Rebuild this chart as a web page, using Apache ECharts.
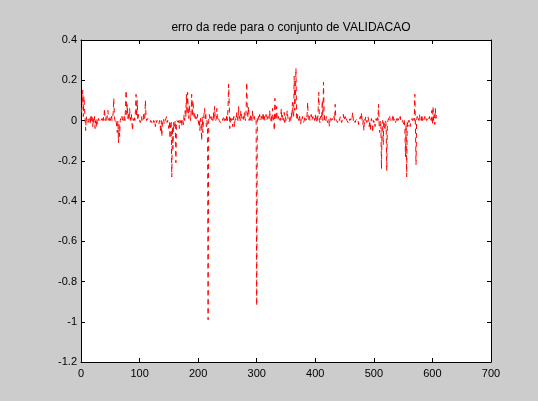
<!DOCTYPE html>
<html>
<head>
<meta charset="utf-8">
<script src="https://cdn.jsdelivr.net/npm/echarts@6/dist/echarts.min.js"></script>
<style>
  html, body { margin: 0; padding: 0; background: #cccccc; }
  #chart { width: 538px; height: 401px; }
</style>
</head>
<body>
<div id="chart"></div>
<script>
// Validation-set error of the network, one value per sample (1..607)
var errorValues = [
  0.04, 0.09, 0.15, 0.02, 0.12, 0.06, 0.01, -0.05, 0.02, 0.00,
  0.01, -0.01, 0.00, 0.02, 0.01, -0.02, 0.03, 0.00, 0.02, -0.03,
  0.01, -0.01, 0.02, -0.04, 0.00, -0.03, 0.01, -0.02, 0.00, 0.01,
  0.00, 0.00, -0.01, 0.00, 0.00, 0.01, 0.00, 0.02, 0.00, 0.06,
  0.01, 0.00, 0.02, 0.00, 0.00, 0.05, 0.01, 0.00, 0.02, 0.00,
  0.01, 0.03, 0.00, 0.01, 0.04, 0.11, 0.02, 0.00, -0.01, 0.00,
  -0.03, -0.06, 0.00, -0.11, -0.02, -0.08, 0.00, 0.01, 0.00, 0.02,
  0.00, 0.01, 0.00, 0.03, 0.00, 0.06, 0.15, 0.03, 0.08, 0.01,
  0.04, 0.00, 0.06, 0.02, 0.00, 0.03, -0.01, -0.05, 0.01, 0.00,
  0.02, 0.00, 0.05, 0.13, 0.02, 0.10, 0.00, 0.03, 0.01, 0.00,
  -0.01, 0.00, 0.02, 0.00, 0.01, 0.00, 0.04, 0.00, 0.01, 0.10,
  0.02, 0.00, 0.00, 0.01, 0.00, 0.00, 0.00, -0.01, 0.00, 0.00,
  0.00, 0.00, -0.02, 0.00, -0.01, 0.00, -0.03, 0.00, -0.01, 0.00,
  0.00, 0.00, -0.02, 0.00, -0.01, -0.06, 0.00, -0.08, -0.01, 0.00,
  0.01, -0.02, -0.01, 0.00, 0.00, 0.02, -0.01, 0.00, -0.02, -0.04,
  -0.01, -0.09, -0.02, 0.00, -0.28, -0.03, -0.14, -0.01, -0.04, -0.02,
  0.00, -0.21, -0.03, 0.00, 0.00, -0.01, 0.00, -0.04, 0.00, -0.02,
  0.00, -0.03, 0.01, 0.00, -0.02, 0.03, 0.00, 0.05, 0.02, 0.13,
  0.03, 0.14, 0.06, 0.01, 0.08, 0.03, 0.00, 0.04, 0.13, 0.02,
  0.10, 0.05, 0.02, 0.04, 0.00, 0.02, 0.01, 0.00, 0.03, 0.00,
  -0.02, 0.00, -0.05, 0.01, 0.00, -0.10, 0.02, -0.06, 0.00, 0.03,
  0.06, 0.01, 0.04, -0.03, 0.00, -0.02, -0.99, 0.00, 0.03, 0.01,
  0.00, 0.02, 0.00, 0.01, 0.00, 0.04, 0.00, 0.07, 0.02, 0.00,
  0.01, 0.06, 0.00, 0.00, 0.01, 0.00, 0.00, -0.01, 0.00, 0.00,
  0.01, 0.00, 0.00, 0.02, 0.00, 0.01, -0.01, 0.00, 0.03, 0.00,
  0.06, 0.18, 0.10, -0.04, 0.00, 0.02, 0.00, 0.01, -0.03, 0.00,
  0.02, -0.03, 0.00, 0.01, 0.00, 0.04, 0.02, 0.00, 0.07, 0.01,
  0.03, 0.00, 0.05, 0.02, 0.01, 0.00, 0.02, 0.00, 0.04, 0.01,
  0.00, 0.06, 0.19, 0.04, 0.02, 0.07, 0.00, 0.01, 0.03, 0.00,
  0.02, 0.00, 0.05, 0.01, 0.00, 0.02, 0.00, -0.01, 0.00, -0.92,
  0.01, 0.00, 0.02, 0.00, 0.03, 0.01, 0.00, 0.02, 0.00, 0.01,
  0.04, 0.00, 0.02, 0.00, 0.01, 0.03, 0.00, 0.00, 0.02, 0.01,
  0.00, 0.05, 0.02, 0.00, 0.03, -0.01, 0.06, 0.02, 0.00, -0.05,
  0.11, 0.03, 0.00, 0.07, 0.01, 0.00, 0.02, 0.00, 0.01, 0.00,
  0.02, 0.06, 0.00, 0.03, 0.01, 0.00, 0.04, -0.01, 0.02, 0.00,
  0.01, 0.05, 0.02, 0.00, -0.01, 0.00, 0.02, 0.00, 0.04, 0.01,
  0.09, 0.03, 0.02, 0.22, 0.05, 0.12, 0.26, 0.02, 0.00, 0.03,
  0.01, 0.00, 0.03, 0.00, -0.02, 0.01, 0.00, 0.02, 0.00, -0.01,
  0.00, 0.02, 0.00, 0.01, 0.00, 0.03, 0.09, 0.01, 0.00, 0.02,
  0.00, 0.01, 0.03, 0.00, 0.00, 0.02, 0.00, 0.01, 0.00, 0.03,
  0.00, -0.01, 0.02, 0.00, 0.06, 0.14, 0.00, -0.01, 0.02, 0.00,
  0.03, 0.10, 0.00, 0.19, 0.05, 0.00, 0.01, 0.00, 0.02, 0.00,
  -0.01, 0.00, 0.01, -0.03, 0.00, 0.02, 0.00, 0.00, 0.01, 0.00,
  0.00, 0.02, 0.00, 0.08, 0.01, 0.00, 0.00, -0.01, 0.00, 0.01,
  0.00, 0.00, 0.02, 0.00, -0.01, 0.00, 0.01, 0.03, 0.00, 0.00,
  0.02, 0.00, 0.01, 0.00, 0.00, -0.01, 0.00, 0.01, 0.00, 0.00,
  0.01, 0.00, 0.00, 0.04, 0.00, 0.01, 0.00, -0.01, 0.00, 0.00,
  0.00, 0.01, 0.00, -0.02, 0.00, 0.00, 0.02, 0.00, 0.04, 0.00,
  -0.02, 0.00, -0.05, 0.01, 0.00, 0.02, 0.00, -0.01, 0.00, 0.02,
  0.00, -0.03, 0.00, -0.05, 0.00, 0.01, -0.02, -0.06, 0.00, -0.01,
  0.00, -0.03, 0.00, 0.01, 0.00, 0.02, 0.00, 0.08, -0.02, -0.06,
  0.00, -0.03, -0.24, -0.02, 0.00, -0.12, 0.00, -0.03, -0.05, 0.00,
  -0.02, -0.25, -0.02, 0.00, 0.01, 0.00, 0.02, 0.00, 0.00, 0.01,
  0.00, 0.00, 0.03, 0.00, 0.01, 0.00, -0.01, 0.00, 0.00, 0.02,
  0.00, 0.00, 0.01, 0.00, 0.02, 0.00, 0.00, -0.01, 0.00, 0.00,
  -0.02, 0.00, -0.05, -0.18, -0.02, -0.28, 0.00, -0.03, 0.00, -0.01,
  0.00, -0.03, 0.00, 0.00, 0.01, 0.00, 0.00, 0.02, 0.00, 0.13,
  -0.03, -0.22, 0.00, 0.02, 0.00, 0.01, 0.00, 0.03, 0.00, 0.01,
  0.00, 0.03, 0.00, 0.01, 0.00, 0.00, 0.02, 0.00, 0.01, 0.00,
  0.00, 0.01, 0.00, 0.00, 0.02, 0.00, 0.01, 0.00, 0.05, -0.02,
  0.07, 0.00, 0.03, -0.02, 0.06, 0.01, 0.04
];

var titleText = 'erro da rede para o conjunto de VALIDACAO';
var xRange = [0, 700];
var xStep = 100;
var yRange = [-1.2, 0.4];
var yStep = 0.2;

// pair each error with its sample number
var points = errorValues.map(function (v, i) { return [i + 1, v]; });

var fontFamily = '"Liberation Sans", Arial, Helvetica, sans-serif';

function axisCommon(show) {
  return {
    axisLine: { show: true, onZero: false, lineStyle: { color: '#000', width: 1 } },
    axisTick: { show: true, inside: true, length: 4, lineStyle: { color: '#000' } },
    axisLabel: show
      ? { show: true, color: '#000', fontSize: 11, fontFamily: fontFamily }
      : { show: false },
    splitLine: { show: false }
  };
}

var xBottom = Object.assign({
  type: 'value', position: 'bottom', min: xRange[0], max: xRange[1], interval: xStep
}, axisCommon(true));
xBottom.axisLabel.margin = 6;

var xTop = Object.assign({
  type: 'value', position: 'top', min: xRange[0], max: xRange[1], interval: xStep
}, axisCommon(false));

var yLeft = Object.assign({
  type: 'value', position: 'left', min: yRange[0], max: yRange[1], interval: yStep
}, axisCommon(true));
yLeft.axisLabel.margin = 4;
yLeft.axisLabel.formatter = function (v) { return String(+v.toFixed(1)); };

var yRight = Object.assign({
  type: 'value', position: 'right', min: yRange[0], max: yRange[1], interval: yStep
}, axisCommon(false));

var chart = echarts.init(document.getElementById('chart'), null, { renderer: 'canvas' });
chart.setOption({
  animation: false,
  backgroundColor: '#cccccc',
  title: {
    text: titleText,
    left: 286,
    top: 17,
    textAlign: 'center',
    textStyle: { fontSize: 12, fontWeight: 'normal', color: '#000', fontFamily: fontFamily }
  },
  grid: {
    left: 81, right: 47, top: 40, bottom: 39,
    show: true, backgroundColor: '#ffffff', borderWidth: 0
  },
  xAxis: [xBottom, xTop],
  yAxis: [yLeft, yRight],
  series: [{
    type: 'line',
    data: points,
    xAxisIndex: 0,
    yAxisIndex: 0,
    showSymbol: false,
    symbol: 'none',
    lineStyle: { color: '#ff0000', width: 1, type: [5, 4] },
    silent: true
  }]
});
</script>
</body>
</html>
